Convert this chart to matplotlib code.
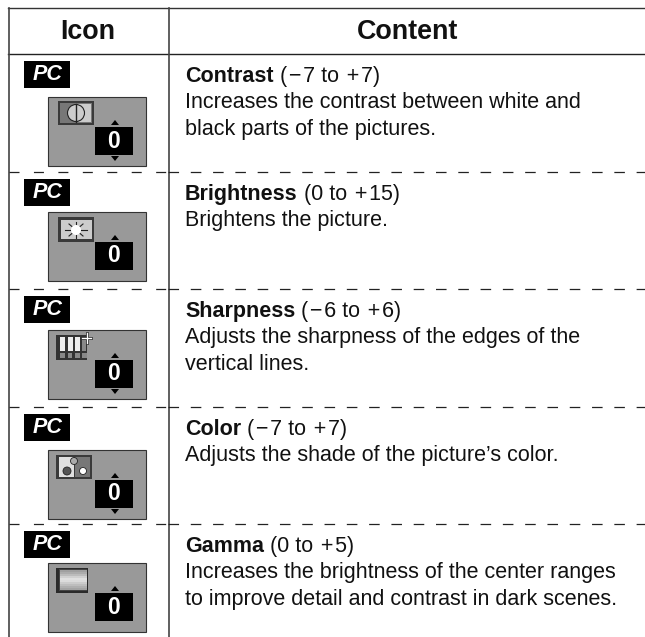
import matplotlib
matplotlib.use('Agg')
import matplotlib.pyplot as plt
from matplotlib.patches import Rectangle, Circle, Polygon

plt.rcParams['font.family'] = ['Liberation Sans', 'DejaVu Sans']
plt.rcParams['lines.scale_dashes'] = False

headers = ['Icon', 'Content']
titles = ['Contrast', 'Brightness', 'Sharpness', 'Color', 'Gamma']
ranges = ['(\u200a\u2212\u200a7 to \u200a+\u200a7)', '(0 to \u200a+\u200a15)', '(\u200a\u2212\u200a6 to \u200a+\u200a6)',
          '(\u200a\u2212\u200a7 to \u200a+\u200a7)', '(0 to \u200a+\u200a5)']
descriptions = [
    ['Increases the contrast between white and', 'black parts of the pictures.'],
    ['Brightens the picture.'],
    ['Adjusts the sharpness of the edges of the', 'vertical lines.'],
    ['Adjusts the shade of the picture\u2019s color.'],
    ['Increases the brightness of the center ranges', 'to improve detail and contrast in dark scenes.'],
]
values = ['0', '0', '0', '0', '0']
has_down = [True, False, True, True, False]
row_tops = [54, 172, 289, 407, 524]
panel_offsets = [42, 39, 40, 42, 38]
gamma_grays = ['#a0a0a0', '#acacac', '#bcbcbc', '#d0d0d0', '#e0e0e0', '#dcdcdc', '#cccccc', '#bebebe', '#b0b0b0', '#a4a4a4']

fig = plt.figure(figsize=(6.45, 6.37), dpi=100)
ax = fig.add_axes([0, 0, 1, 1])
ax.set_xlim(0, 645)
ax.set_ylim(637, 0)
ax.axis('off')


def rect(x0, y0, x1, y1, fc, ec='none', lw=0, z=3):
    ax.add_patch(Rectangle((x0, y0), x1 - x0, y1 - y0, fc=fc, ec=ec, lw=lw, zorder=z))


def contrastIcon(t):
    rect(58, t + 5, 94, t + 29, '#3a3a3a')
    rect(60, t + 7, 92, t + 27, '#777777', z=4)
    rect(76, t + 8, 91, t + 26, '#cccccc', z=4)
    ax.add_patch(Circle((76, t + 17), 8.5, fc='#cccccc', ec='#222222', lw=0.8, zorder=5))
    ax.plot([76, 76], [t + 8, t + 26], color='#222222', lw=1, zorder=6)


def brightnessIcon(t):
    rect(58, t + 6, 94, t + 31, '#3a3a3a')
    rect(61, t + 9, 92, t + 28, '#cccccc', z=4)
    cx, cy = 76, t + 19
    for dx, dy in [(11, 0), (-11, 0), (0, 8), (0, -8), (7, 6), (-7, 6), (7, -6), (-7, -6)]:
        ax.plot([cx, cx + dx], [cy, cy + dy], color='#222222', lw=0.8, zorder=5)
    ax.add_patch(Circle((cx, cy), 5, fc='white', ec='none', zorder=6))


def sharpnessIcon(t):
    rect(56, t + 6, 87, t + 31, '#333333')
    for x in [60, 67.5, 75]:
        rect(x, t + 8, x + 5, t + 22, '#eeeeee', z=4)
    rect(82, t + 8, 86, t + 22, '#888888', z=4)
    for x in [60, 67.5, 75, 82]:
        rect(x, t + 24, x + 4.5, t + 29, '#888888', z=4)
    for dx, dy in [((86.5, 86.5), (t + 4, t + 14)), ((82, 91), (t + 9, t + 9))]:
        ax.plot(dx, dy, color='#333333', lw=2, zorder=5)
        ax.plot(dx, dy, color='white', lw=0.9, zorder=6)


def colorIcon(t):
    rect(56, t + 6, 92, t + 30, '#3a3a3a')
    rect(59, t + 8, 74, t + 28, '#e0e0e0', z=4)
    rect(75, t + 8, 90, t + 28, '#777777', z=4)
    ax.add_patch(Circle((67, t + 22), 4, fc='#555555', ec='#222222', lw=0.6, zorder=5))
    ax.add_patch(Circle((83, t + 22), 3.5, fc='white', ec='#222222', lw=0.6, zorder=5))
    ax.add_patch(Circle((74, t + 12), 3.5, fc='#aaaaaa', ec='#222222', lw=0.6, zorder=5))


def gammaIcon(t):
    rect(56, t + 6, 88, t + 31, '#2a2a2a')
    rect(59, t + 7, 87, t + 29, '#444444', z=4)
    h = 20 / len(gamma_grays)
    for i, g in enumerate(gamma_grays):
        rect(60, t + 8 + i * h, 87, t + 8 + (i + 1) * h, g, z=5)


icons = [contrastIcon, brightnessIcon, sharpnessIcon, colorIcon, gammaIcon]

# frame
ax.plot([8, 645], [8, 8], color='#333333', lw=1)
ax.plot([8, 645], [54, 54], color='#222222', lw=1)
ax.plot([8.5, 8.5], [8, 637], color='#444444', lw=1.2)
ax.plot([169, 169], [8, 637], color='#444444', lw=1.2)
# each cell has its own dash run
for y in row_tops[1:]:
    ax.plot([8.5, 168.4], [y, y], color='#222222', lw=0.9, linestyle=(0, (7.2, 10.4)))
    ax.plot([168.4, 645], [y, y], color='#222222', lw=0.9, linestyle=(0, (7.6, 8.45)))

ax.text(88, 39, headers[0], fontsize=19.4, fontweight='bold', ha='center', va='baseline', color='#111111')
ax.text(408, 39, headers[1], fontsize=19.4, fontweight='bold', ha='center', va='baseline', color='#111111')

rend = fig.canvas.get_renderer()
for i, t in enumerate(row_tops):
    # PC badge
    rect(24, t + 7, 70, t + 33.5, 'black')
    ax.text(47.5, t + 20.5, 'PC', fontsize=15.5, fontweight='bold', fontstyle='italic',
            color='white', ha='center', va='center', zorder=5)

    # OSD panel
    p = t + panel_offsets[i]
    rect(47.5, p + 0.5, 145.5, p + 69.5, '#999999', ec='#333333', lw=0.8)
    icons[i](p)
    rect(95, p + 31, 133, p + 58.5, 'black')
    ax.text(114, p + 45, values[i], fontsize=16.5, fontweight='bold', color='white',
            ha='center', va='center', zorder=5)
    ax.add_patch(Polygon([(111, p + 29), (119, p + 29), (115, p + 24)], fc='black', zorder=4))
    if has_down[i]:
        ax.add_patch(Polygon([(111, p + 60), (119, p + 60), (115, p + 65)], fc='black', zorder=4))

    # text column
    tb = ax.text(185, t + 28, titles[i], fontsize=15.5, fontweight='bold', color='#111111',
                 ha='left', va='baseline')
    ext = tb.get_window_extent(rend)
    ax.text(ext.x1 + 6, t + 28, ranges[i], fontsize=15.5, color='#111111', ha='left', va='baseline')
    for j, line in enumerate(descriptions[i]):
        ax.text(185, t + 54 + j * 27, line, fontsize=15.5, color='#111111', ha='left', va='baseline')

fig.savefig('out.png', dpi=100)
